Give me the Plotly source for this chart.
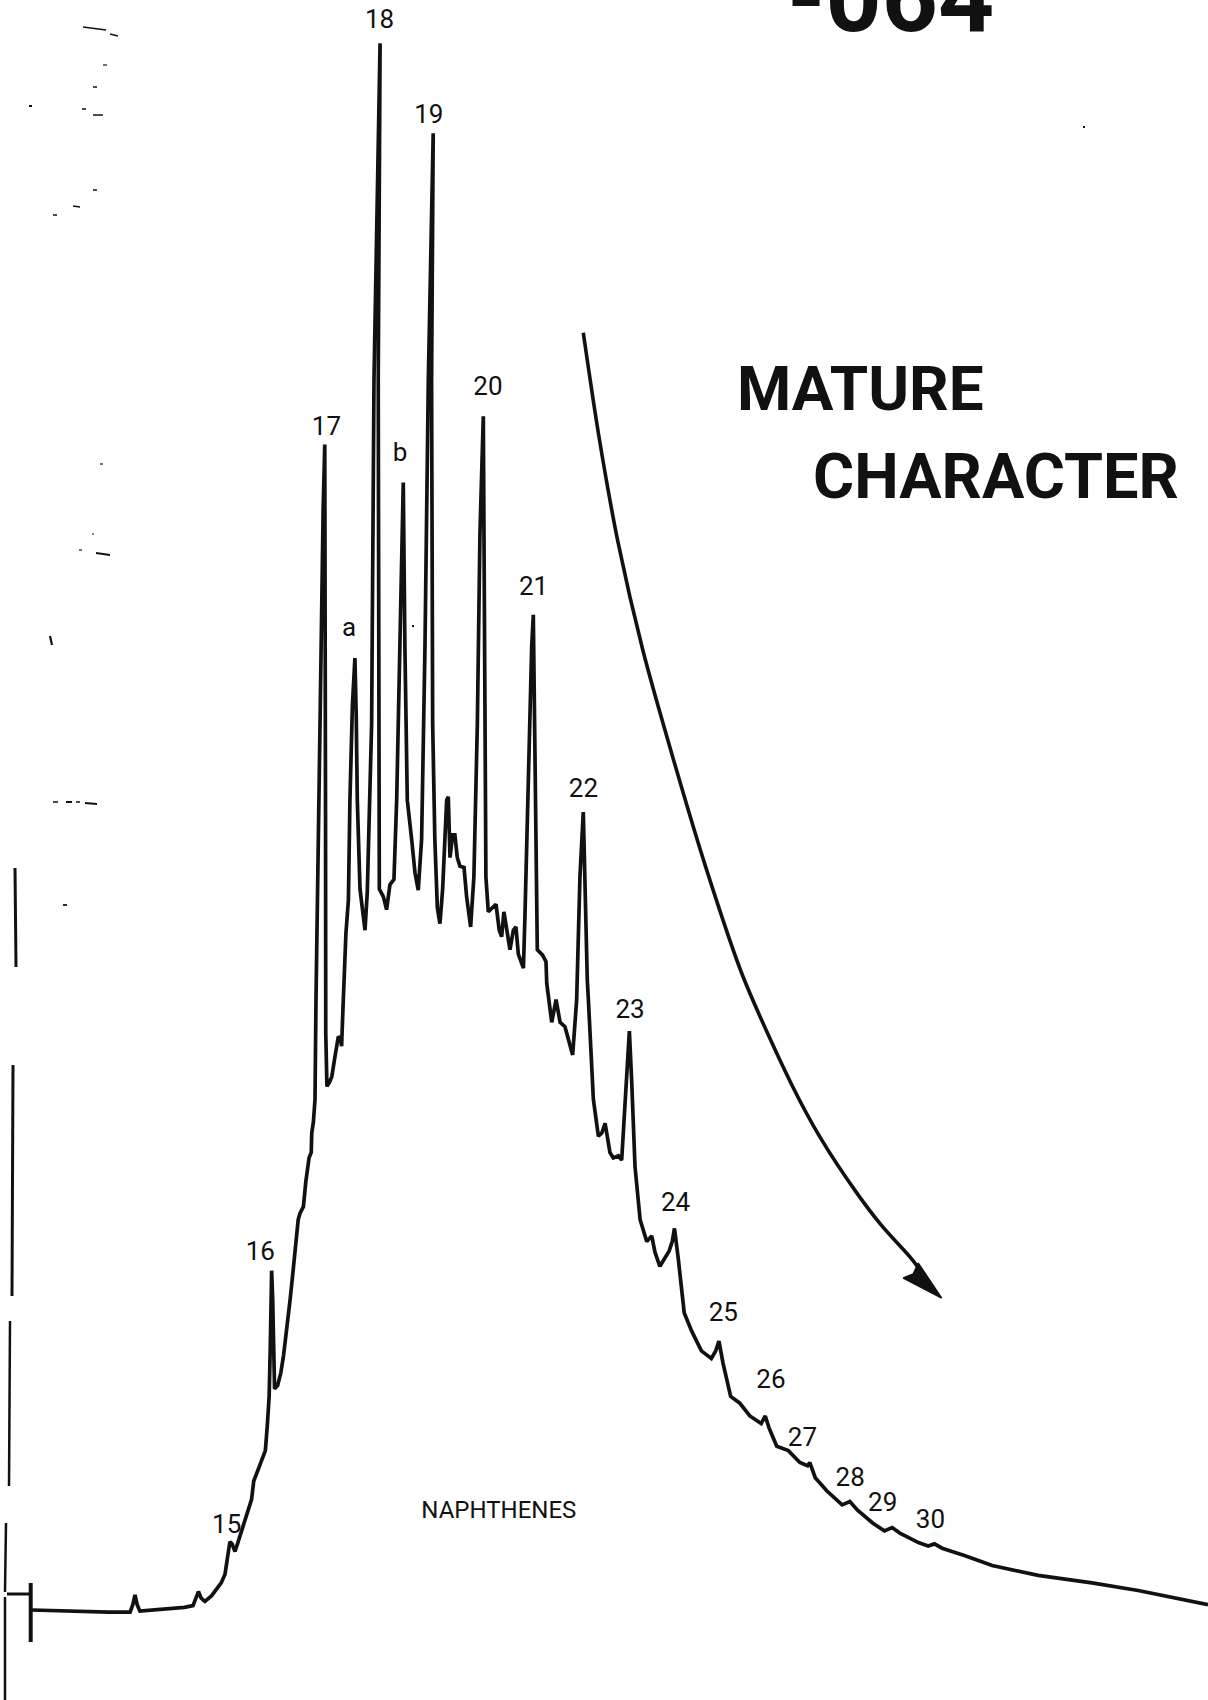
import plotly.graph_objects as go

# ---------------- chromatogram data (retention units, detector response) -------------
retention = [
    29, 60, 100, 120, 122.5, 124.5, 126.5, 129, 150, 170, 178, 181, 183, 185.5, 189, 195,
    199.8, 204, 207.5, 209.5, 210.5, 212, 214, 216.7, 219, 221.3, 224, 227.5, 232, 234,
    238, 241, 244.7, 246.5, 248.2, 249.3, 250.5, 251.5, 252.3, 253.2, 256, 259, 261.5,
    263.8, 266, 267.5, 270, 273, 275, 276.7, 279.8, 282, 285, 287, 287.5, 289, 290.5,
    291.4, 292.7, 295.5, 298, 299.5, 300, 300.2, 300.4, 301.5, 304, 306, 309, 312, 314,
    315, 316.6, 319, 321.3, 322.7, 325, 327.3, 328.5, 329.5, 332, 334, 336.6, 338.7,
    340.5, 342.7, 344.9, 350.5, 348.8, 349.5, 349.8, 353.5, 356.5, 359.6, 363.3, 365.8,
    368.2, 370.5, 371.9, 373.4, 375.6, 379.6, 382.7, 385.7, 388.8, 391.9, 395, 399.5,
    398, 399, 401, 403.3, 405.7, 408.2, 411.9, 413.4, 415, 417.4, 419.5, 421.7, 424.2,
    427.9, 430.3, 434, 437, 440.2, 442.6, 445.7, 447.2, 448.1, 450.3, 454.3, 457.4,
    460.4, 462.6, 464.7, 467.2, 470.3, 473.4, 475.8, 478, 481, 482.7, 484.1, 487.2,
    490.3, 491.8, 493.3, 495.5, 500.4, 503.5, 504.2, 508.8, 512.8, 516.5, 521, 525.1,
    528.1, 531.8, 534.8, 537.9, 539.4, 541.6, 542.6, 547.2, 551.8, 555, 558, 562.5,
    565.6, 570.3, 573.3, 576.4, 578.5, 580.4, 582.6, 585.6, 590.3, 596.4, 601, 604,
    608.5, 612, 617, 620, 622, 625.5, 631, 638, 646.8, 656, 660, 663, 666.7, 673.8, 682,
    691.5, 702, 705.7, 709.2, 716.3, 727, 737.6, 744.7, 746.8, 751.8, 762.4, 776.6,
    783.7, 790.8, 805, 815.6, 822.7, 829.8, 847.5, 856, 861.7, 868.8, 890, 915, 957.4,
    1007, 1049.6, 1106.4, 1114,
]
response = [
    83, 82, 81, 81, 88, 97, 88, 82, 83.5, 85.5, 87, 94, 100, 94, 91, 96,
    102, 108, 116, 128, 137, 146, 144, 137, 144, 151, 160, 169, 185, 202,
    213, 222, 230, 253, 280, 328, 396, 368, 308, 287, 290, 302, 318,
    336, 351, 369, 393, 421, 443, 449, 455, 478, 500, 505, 523, 533, 554,
    646, 738, 918, 1098, 1158, 1048, 818, 615, 566, 570, 575, 594, 612, 610,
    603, 646, 707, 738, 830, 918, 961, 908, 830, 748, 728, 710, 745,
    808, 900, 1218, 1528, 1218, 968, 748, 741, 729, 752, 757, 830,
    953, 1068, 1123, 971, 830, 794, 763, 747, 794, 971, 1218, 1445,
    1218, 900, 794, 731, 716, 748, 830, 833, 777, 798, 798, 777, 769,
    768, 741, 713, 759, 900, 1076, 1184, 971, 759, 727, 731, 734,
    710, 704, 727, 710, 692, 710, 713, 688, 678, 675, 723, 865,
    971, 1001, 847, 692, 687, 681, 661, 625, 646, 625, 621, 606,
    595, 646, 759, 819, 741, 664, 646, 554, 520, 523, 532, 505,
    500, 502, 498, 554, 593, 617, 569, 492, 443, 423, 428, 413,
    400, 406, 414, 423, 435, 407, 357, 340, 322, 315, 322, 331, 311, 280, 274,
    262, 255, 262, 251, 234, 230, 219, 216, 219, 205, 193, 180,
    183, 175, 163, 156, 159, 154, 145, 142, 144, 140, 133, 124, 115,
    108, 101, 90, 88,
]

# peak labels (n-alkane carbon numbers and marked compounds)
peak_labels = ["15", "16", "17", "a", "18", "b", "19", "20", "21", "22",
               "23", "24", "25", "26", "27", "28", "29", "30"]
label_rt = [209, 240, 301, 322, 350, 369, 395.5, 450, 492, 538,
            581, 623, 667, 711, 740, 784, 814, 858]
label_resp = [160, 412, 1173, 987, 1548, 1149, 1461, 1210, 1025, 839,
              635, 457, 356, 294, 240, 203, 180, 165]

# trend arrow ("mature character")
arrow_rt = [537.9, 551.9, 569.9, 592.9, 620.9, 650.9, 684.9, 729.9, 756.9, 789.9,
            812.7, 839.7, 846]
arrow_resp = [1261, 1168, 1068, 968, 868, 768, 668, 568, 518, 468, 438, 408, 400]
head_rt = [868.4, 833, 842.2, 846.8, 868.4]
head_resp = [370.7, 389.2, 393, 403, 370.7]

INK = "#111111"
LABEL_FONT = "Roboto, Liberation Sans, sans-serif"
TITLE_FONT = "Roboto, Liberation Sans, sans-serif"

fig = go.Figure()

fig.add_trace(go.Scatter(
    x=retention, y=response, mode="lines",
    line=dict(color=INK, width=3.7), hoverinfo="skip",
))

fig.add_trace(go.Scatter(
    x=arrow_rt, y=arrow_resp, mode="lines",
    line=dict(color=INK, width=3.6, shape="spline", smoothing=0.8), hoverinfo="skip",
))
fig.add_trace(go.Scatter(
    x=head_rt, y=head_resp, mode="lines", fill="toself", fillcolor=INK,
    line=dict(color=INK, width=1.5), hoverinfo="skip",
))

fig.add_trace(go.Scatter(
    x=label_rt, y=label_resp, mode="text", text=peak_labels,
    textposition="middle center",
    textfont=dict(family=LABEL_FONT, size=26, color=INK), hoverinfo="skip",
))

fig.add_trace(go.Scatter(
    x=[460], y=[173], mode="text", text=["NAPHTHENES"],
    textposition="middle center",
    textfont=dict(family=LABEL_FONT, size=24, color=INK), hoverinfo="skip",
))

W, H = 1208, 1700


def px_line(x0, y0, x1, y1, w=2.0):
    return dict(type="line", xref="paper", yref="paper",
                x0=x0 / W, y0=1 - y0 / H, x1=x1 / W, y1=1 - y1 / H,
                line=dict(color=INK, width=w))


shapes = [
    # injection marker and pre-run baseline stub
    px_line(7, 1594, 30, 1594, 3.0),
    px_line(30.7, 1583, 30.7, 1642, 4.0),
    # scan-edge border marks
    px_line(15, 868, 16, 967, 3.0),
    px_line(13, 1065, 12, 1296, 3.0),
    px_line(10, 1321, 9, 1486, 2.5),
    px_line(6, 1523, 5, 1592, 2.5),
    px_line(5, 1597, 5, 1700, 2.5),
    # small specks on the left margin
    px_line(83, 27, 106, 30, 1.5), px_line(110, 34, 118, 36, 1.5),
    px_line(29, 106, 32, 106, 2), px_line(82, 109, 86, 109, 1.5),
    px_line(93, 115, 103, 115, 1.5), px_line(93, 87, 97, 87, 1.5),
    px_line(103, 65, 107, 65, 1.2), px_line(53, 215, 57, 215, 1.5),
    px_line(73, 206, 80, 207, 1.5), px_line(93, 190, 97, 190, 1.5),
    px_line(100, 464, 103, 464, 1.2), px_line(92, 534, 94, 534, 1.2),
    px_line(79, 550, 82, 550, 1.2), px_line(96, 553, 110, 555, 1.8),
    px_line(50, 636, 52, 645, 2.2), px_line(53, 802, 58, 802, 1.5),
    px_line(66, 802, 72, 802, 2), px_line(76, 802, 80, 802, 1.5),
    px_line(85, 803, 97, 804, 2), px_line(63, 905, 67, 905, 1.8),
    px_line(1083, 127, 1085, 127, 2), px_line(412, 626, 414, 626, 2),
]

annotations = [
    dict(text="<b>-064</b>", xref="paper", yref="paper", x=890 / W, y=1 + 2 / H,
         xanchor="center", yanchor="middle", showarrow=False,
         font=dict(family=TITLE_FONT, size=98, color=INK)),
    dict(text="<b>MATURE</b>", xref="paper", yref="paper", x=861 / W, y=1 - 388 / H,
         xanchor="center", yanchor="middle", showarrow=False,
         font=dict(family=TITLE_FONT, size=62, color=INK)),
    dict(text="<b>CHARACTER</b>", xref="paper", yref="paper", x=996 / W, y=1 - 477 / H,
         xanchor="center", yanchor="middle", showarrow=False,
         font=dict(family=TITLE_FONT, size=63, color=INK)),
]

fig.update_layout(
    width=W, height=H,
    margin=dict(l=0, r=0, t=0, b=0),
    paper_bgcolor="white", plot_bgcolor="white",
    showlegend=False,
    xaxis=dict(range=[0, 1114], visible=False, fixedrange=True),
    yaxis=dict(range=[0, 1568], visible=False, fixedrange=True),
    shapes=shapes,
    annotations=annotations,
)

fig.write_html("out.html")
